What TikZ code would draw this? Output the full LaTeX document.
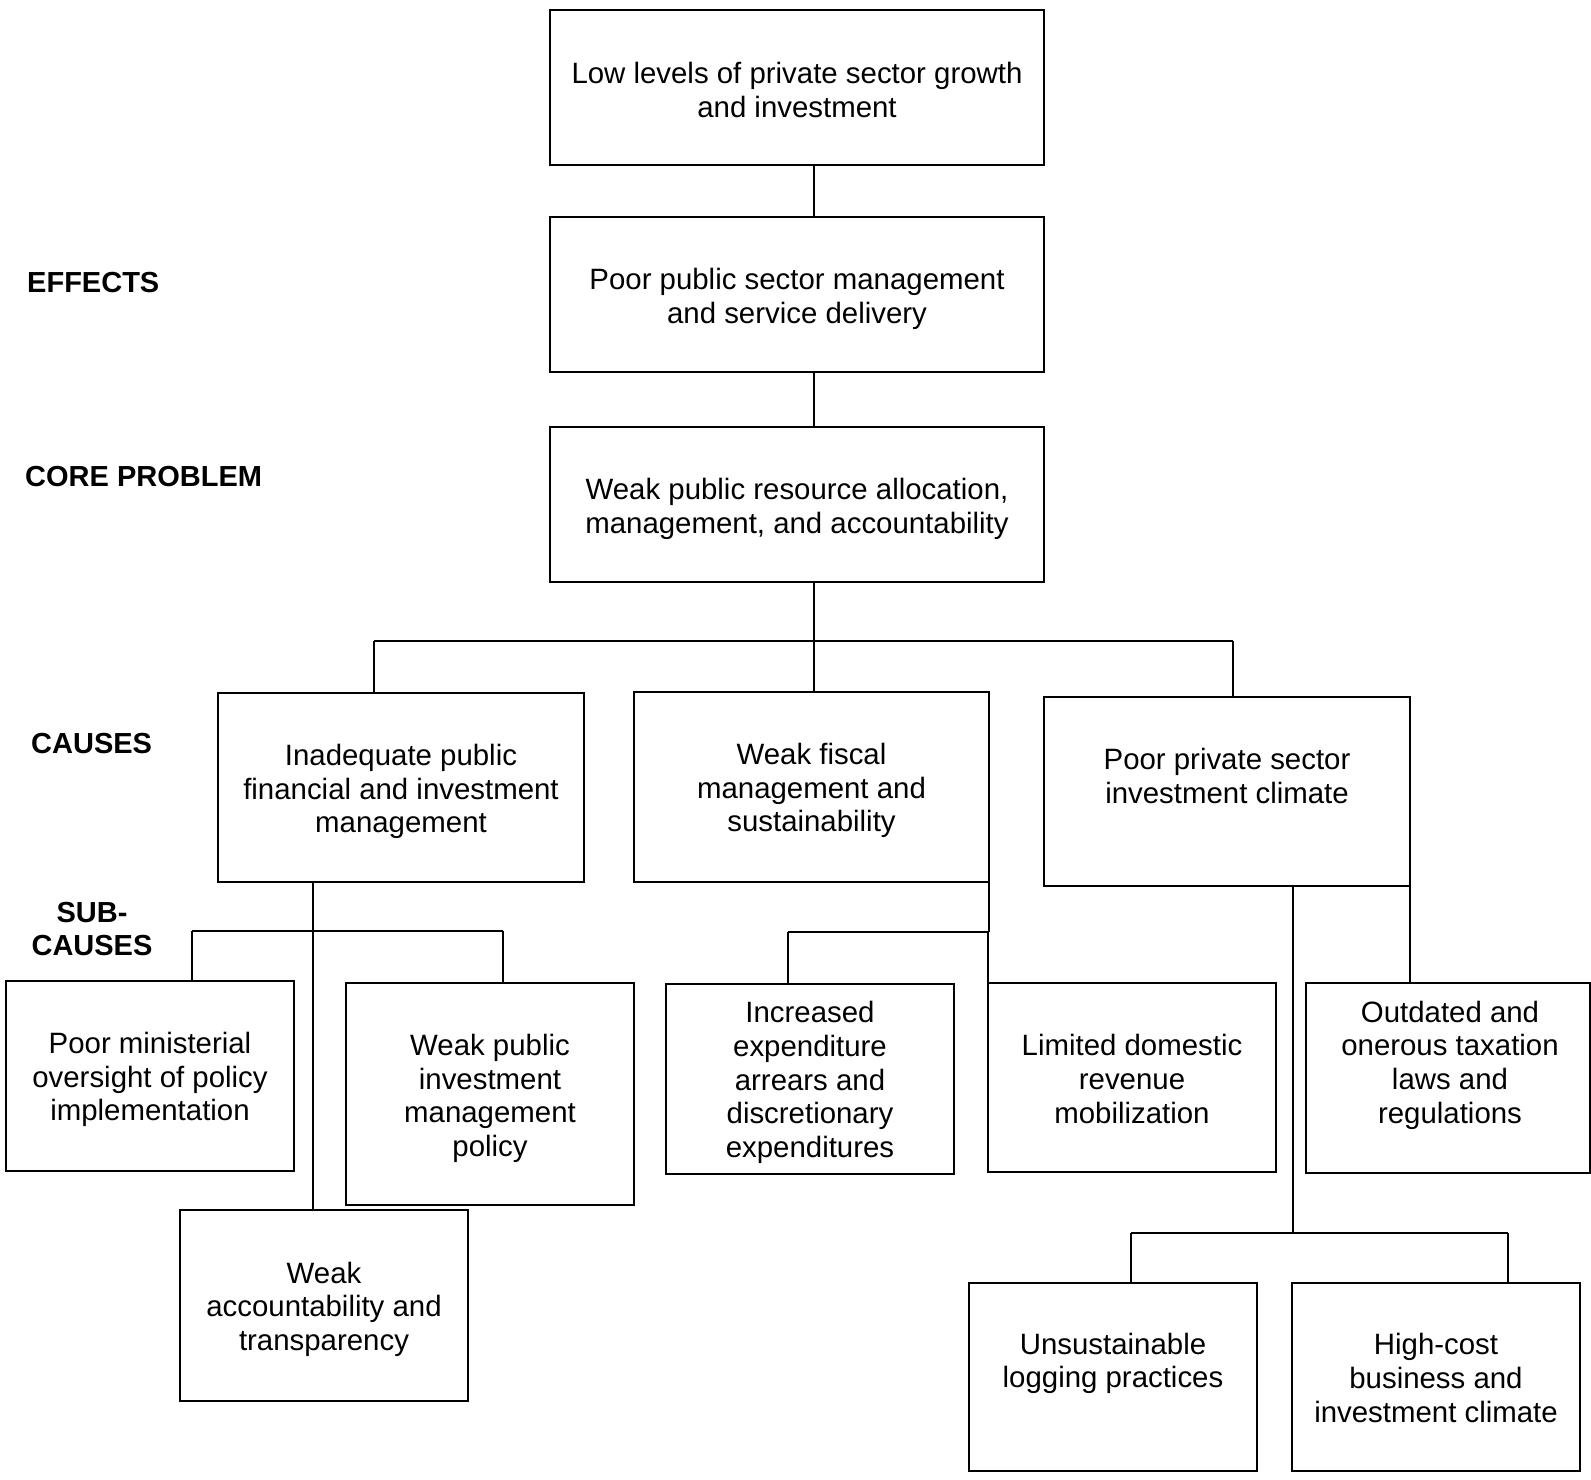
\documentclass[tikz,border=0pt]{standalone}
\usepackage{fontspec}
\setmainfont{Liberation Sans}
\tikzset{
  boxnode/.style={draw, line width=2pt, inner sep=0pt, outer sep=0pt, rectangle},
  txt/.style={align=center, inner sep=0pt, font=\fontsize{29.4}{33.6}\selectfont},
  lbl/.style={inner sep=0pt, font=\fontsize{29}{33.5}\selectfont\bfseries},
  conn/.style={line width=2.2pt}
}
\begin{document}
\begin{tikzpicture}[x=1pt,y=-1pt]
\useasboundingbox (0,0) rectangle (1591,1480);
% boxes
\node[boxnode, minimum width=494pt, minimum height=155pt] (top) at (797,87.5) {};
\node[boxnode, minimum width=494pt, minimum height=155pt] (b2) at (797,294.5) {};
\node[boxnode, minimum width=494pt, minimum height=155pt] (b3) at (797,504.5) {};
\node[boxnode, minimum width=366pt, minimum height=189pt] (inad) at (401,787.5) {};
\node[boxnode, minimum width=355pt, minimum height=190pt] (fisc) at (811.5,787) {};
\node[boxnode, minimum width=366pt, minimum height=189pt] (priv) at (1227,791.5) {};
\node[boxnode, minimum width=288pt, minimum height=190pt] (pmin) at (150,1076) {};
\node[boxnode, minimum width=288pt, minimum height=222pt] (wpub) at (490,1094) {};
\node[boxnode, minimum width=288pt, minimum height=191pt] (wacc) at (324,1305.5) {};
\node[boxnode, minimum width=288pt, minimum height=190pt] (incr) at (810,1079) {};
\node[boxnode, minimum width=288pt, minimum height=189pt] (lim) at (1132,1077.5) {};
\node[boxnode, minimum width=284pt, minimum height=190pt] (outd) at (1448,1078) {};
\node[boxnode, minimum width=288pt, minimum height=188pt] (unsus) at (1113,1377) {};
\node[boxnode, minimum width=288pt, minimum height=188pt] (high) at (1436,1377) {};
% texts
\node[txt, yshift=-2.5pt] (top-t) at (top.center) {Low levels of private sector growth\\and investment};
\node[txt, yshift=-4.5pt] (b2-t) at (b2.center) {Poor public sector management\\and service delivery};
\node[txt, yshift=-4.5pt] (b3-t) at (b3.center) {Weak public resource allocation,\\management, and accountability};
\node[txt, yshift=-4pt] (inad-t) at (inad.center) {Inadequate public\\financial and investment\\management};
\node[txt, yshift=-3.5pt] (fisc-t) at (fisc.center) {Weak fiscal\\management and\\sustainability};
\node[txt, yshift=15.5pt] (priv-t) at (priv.center) {Poor private sector\\investment climate};
\node[txt, yshift=-3.5pt] (pmin-t) at (pmin.center) {Poor ministerial\\oversight of policy\\implementation};
\node[txt, yshift=-4.5pt] (wpub-t) at (wpub.center) {Weak public\\investment\\management\\policy};
\node[txt, yshift=-3.5pt] (wacc-t) at (wacc.center) {Weak\\accountability and\\transparency};
\node[txt, yshift=-3.5pt] (incr-t) at (incr.center) {Increased\\expenditure\\arrears and\\discretionary\\expenditures};
\node[txt, yshift=-1.5pt] (lim-t) at (lim.center) {Limited domestic\\revenue\\mobilization};
\node[txt, yshift=13pt, xshift=2pt] (outd-t) at (outd.center) {Outdated and\\onerous taxation\\laws and\\regulations};
\node[txt, yshift=13.5pt] (unsus-t) at (unsus.center) {Unsustainable\\logging practices};
\node[txt, yshift=-1pt] (high-t) at (high.center) {High-cost\\business and\\investment climate};
% side labels
\node[lbl, anchor=west] (leff) at (27,283) {EFFECTS};
\node[lbl, anchor=west] (lcore) at (25,477) {CORE PROBLEM};
\node[lbl, anchor=west] (lcaus) at (31,744) {CAUSES};
\node[lbl, align=center] (lsub) at (92,929) {SUB-\\CAUSES};
% bus coordinates
\coordinate (spine) at (814,641);
\coordinate (busL) at (374,641);
\coordinate (busR) at (1233,641);
\coordinate (sbL) at (192,931);
\coordinate (sbR) at (503,931);
\coordinate (sbM) at (313,931);
\coordinate (fbL) at (788,932);
\coordinate (fbR) at (989,932);
\coordinate (rbL) at (1131,1233);
\coordinate (rbR) at (1508,1233);
\coordinate (rbM) at (1293,1233);
% connectors top spine
\draw[conn] (top.south -| spine) -- (b2.north -| spine);
\draw[conn] (b2.south -| spine) -- (b3.north -| spine);
\draw[conn] (b3.south -| spine) -- (spine);
\draw[conn] (busL) -- (busR);
\draw[conn] (busL) -- (inad.north -| busL);
\draw[conn] (spine) -- (fisc.north -| spine);
\draw[conn] (busR) -- (priv.north -| busR);
% left group
\draw[conn] (inad.south -| sbM) -- (wacc.north -| sbM);
\draw[conn] (sbL) -- (sbR);
\draw[conn] (sbL) -- (pmin.north -| sbL);
\draw[conn] (sbR) -- (wpub.north -| sbR);
% middle group
\draw[conn] (fisc.south east) -- (fisc.south east |- fbR);
\draw[conn] (fbL) -- (fisc.south east |- fbR);
\draw[conn] (fbL) -- (incr.north -| fbL);
\draw[conn] (lim.north west |- fbR) -- (lim.north west);
% right group
\draw[conn] (priv.south -| rbM) -- (rbM);
\draw[conn] (rbL) -- (rbR);
\draw[conn] (rbL) -- (unsus.north -| rbL);
\draw[conn] (rbR) -- (high.north -| rbR);
\draw[conn] (priv.south east) -- (outd.north -| priv.south east);
\end{tikzpicture}
\end{document}
